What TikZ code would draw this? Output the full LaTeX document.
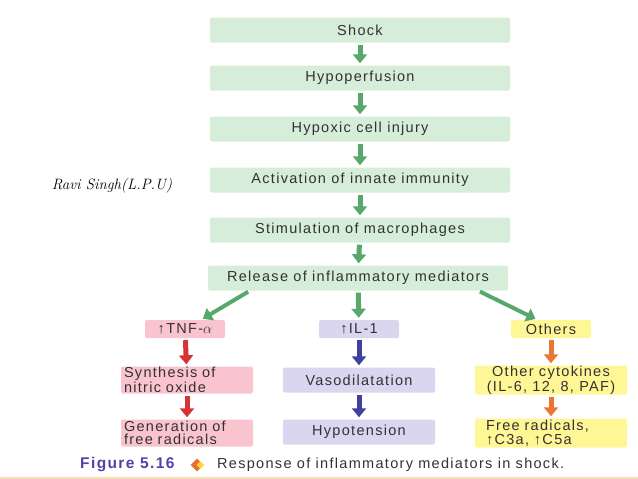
\documentclass[tikz,border=0pt]{standalone}
\usepackage{fontspec}
\newfontfamily\boxfont{Liberation Sans}[LetterSpace=9]
\usetikzlibrary{arrows.meta,shapes.geometric,calc}

\definecolor{greenbox}{RGB}{214,237,218}
\definecolor{pinkbox}{RGB}{250,196,206}
\definecolor{lilacbox}{RGB}{218,214,240}
\definecolor{yellowbox}{RGB}{255,246,150}
\definecolor{greenarr}{RGB}{88,168,108}
\definecolor{redarr}{RGB}{214,52,52}
\definecolor{bluearr}{RGB}{64,64,158}
\definecolor{orangearr}{RGB}{234,118,52}
\definecolor{textgray}{RGB}{50,50,50}
\definecolor{figblue}{RGB}{84,64,168}
\definecolor{markorange}{RGB}{232,112,40}
\definecolor{markyellow}{RGB}{255,214,80}
\definecolor{lineorange}{RGB}{250,222,186}

\tikzset{
  box/.style={rounded corners=2pt, inner sep=0pt, text=textgray,
    font=\boxfont\fontsize{14.5}{13.5}\selectfont},
  stage/.style={box, fill=greenbox, minimum width=300pt, minimum height=25pt},
  small/.style={box, minimum width=80pt, minimum height=18pt},
  wide/.style={box, minimum width=132pt, minimum height=25pt},
  flow/.style={line width=5pt, -{Triangle[width=14pt,length=9pt]},
    shorten <=2pt, shorten >=2pt},
}

\begin{document}
\begin{tikzpicture}[x=1pt,y=-1pt]
  \useasboundingbox (0,0) rectangle (638,479);
  % main chain
  \node[stage] (shock) at (360,30) {Shock};
  \node[stage] (hypo) at (360,78) {Hypoperfusion};
  \node[stage] (injury) at (360,129) {Hypoxic cell injury};
  \node[stage] (innate) at (360,180) {Activation of innate immunity};
  \node[stage] (macro) at (360,230) {Stimulation of macrophages};
  \node[stage] (release) at (358,278) {Release of inflammatory mediators};
  % three branches
  \node[small, fill=pinkbox] (tnf) at (185,329) {↑TNF-$\alpha$};
  \node[small, fill=lilacbox] (il) at (359,329) {↑IL-1};
  \node[small, fill=yellowbox] (others) at (551,329) {Others};
  \node[wide, fill=pinkbox, minimum height=27pt, align=left, text width=126pt] (nitric) at (187,380) {Synthesis of\\nitric oxide};
  \node[wide, fill=lilacbox, minimum width=152pt] (vaso) at (359,380) {Vasodilatation};
  \node[wide, fill=yellowbox, minimum width=152pt, minimum height=29pt, align=center] (cyto) at (551,380) {Other cytokines\\(IL-6, 12, 8, PAF)};
  \node[wide, fill=pinkbox, minimum height=27pt, align=left, text width=126pt] (radicals) at (187,433) {Generation of\\free radicals};
  \node[wide, fill=lilacbox, minimum width=152pt] (hypot) at (359,432) {Hypotension};
  \node[wide, fill=yellowbox, minimum width=152pt, minimum height=29pt, align=left, text width=130pt] (free) at (551,433) {Free radicals,\\↑C3a, ↑C5a};
  % arrows
  \draw[flow, greenarr] (shock) -- (hypo);
  \draw[flow, greenarr] (hypo) -- (injury);
  \draw[flow, greenarr] (injury) -- (innate);
  \draw[flow, greenarr] (innate) -- (macro);
  \draw[flow, greenarr] (macro) -- (release);
  \draw[flow, greenarr] (release) -- (il);
  \draw[flow, greenarr, line width=4pt] ($(release.south west)!0.14!(release.south east)$) -- ($(tnf.north west)!0.7!(tnf.north east)$);
  \draw[flow, greenarr, line width=4pt] ($(release.south west)!0.9!(release.south east)$) -- ($(others.north west)!0.33!(others.north east)$);
  \draw[flow, redarr] (tnf) -- (nitric);
  \draw[flow, redarr] (nitric) -- (radicals);
  \draw[flow, bluearr] (il) -- (vaso);
  \draw[flow, bluearr] (vaso) -- (hypot);
  \draw[flow, orangearr] (others) -- (cyto);
  \draw[flow, orangearr] (cyto) -- (free);
  % signature
  \node[font=\itshape\fontsize{15}{15}\selectfont] (sign) at (112,186) {Ravi Singh(L.P.U)};
  % caption
  \node[anchor=west, inner sep=0pt, text=figblue, font=\boxfont\bfseries\fontsize{15.5}{15}\selectfont] (fig) at (80,465) {Figure 5.16};
  \node[diamond, fill=markorange, minimum size=13pt, inner sep=0pt] (mark) at (197,465) {};
  \node[diamond, fill=markyellow, minimum size=8pt, inner sep=0pt] (markin) at ($(mark.center)+(3.5,0)$) {};
  \node[anchor=west, inner sep=0pt, text=textgray, font=\boxfont\fontsize{14.5}{14}\selectfont] (caption) at (217,465) {Response of inflammatory mediators in shock.};
  \draw[lineorange, line width=2pt] (0,478) -- (638,478);
\end{tikzpicture}
\end{document}
